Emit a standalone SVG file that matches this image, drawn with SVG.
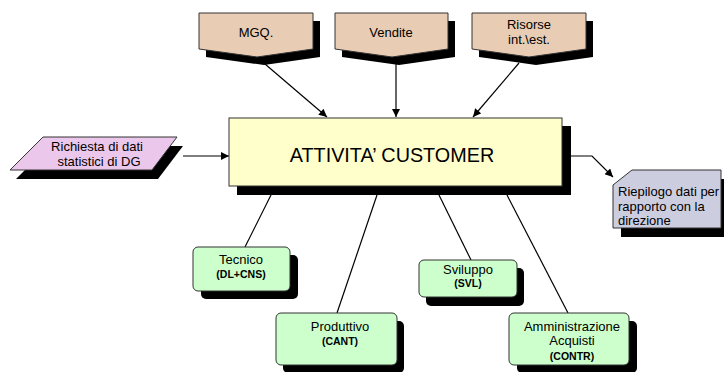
<svg xmlns="http://www.w3.org/2000/svg" width="724" height="372" viewBox="0 0 724 372">
<style>
text{font-family:"Liberation Sans",Arial,sans-serif;fill:#000}
.lbl{font-size:13px}
.sub{font-size:10.5px;font-weight:bold}
.sh{fill:#000}
.tan{fill:#E8CDB4;stroke:#333;stroke-width:1}
.main{fill:#FFFFCC;stroke:#333;stroke-width:1}
.pink{fill:#EBC8EB;stroke:#333;stroke-width:1}
.grey{fill:#CDCDE0;stroke:#333;stroke-width:1}
.green{fill:#CCFFCC;stroke:#333;stroke-width:1}
.conn{stroke:#000;stroke-width:1.2;fill:none}
</style>
<defs>
<marker id="ah" viewBox="0 0 10 10" refX="10" refY="5" markerWidth="9" markerHeight="8" markerUnits="userSpaceOnUse" orient="auto">
<path d="M0,0 L10,5 L0,10 z" fill="#000"/>
</marker>
</defs>

<g id="connectors">
<line class="conn" x1="265" y1="64" x2="327" y2="117" marker-end="url(#ah)"/>
<line class="conn" x1="396" y1="64" x2="396" y2="117" marker-end="url(#ah)"/>
<line class="conn" x1="519" y1="63" x2="473" y2="117" marker-end="url(#ah)"/>
<line class="conn" x1="183" y1="156" x2="229" y2="156" marker-end="url(#ah)"/>
<polyline class="conn" points="571,156 592,156 613,177" marker-end="url(#ah)"/>
<line class="conn" x1="271" y1="195" x2="245" y2="247"/>
<line class="conn" x1="377" y1="195" x2="337" y2="313"/>
<line class="conn" x1="439" y1="195" x2="471" y2="260"/>
<line class="conn" x1="507" y1="195" x2="568" y2="313"/>
</g>

<g id="mgq">
<polygon class="sh" points="206,21 320,21 320,57 264,65 206,57"/>
<polygon class="tan" points="199,13 313,13 313,49 257,57 199,49"/>
<text class="lbl" x="256" y="37" text-anchor="middle">MGQ.</text>
</g>
<g id="vendite">
<polygon class="sh" points="342,21 455,21 455,57 399,65 342,57"/>
<polygon class="tan" points="335,13 448,13 448,49 392,57 335,49"/>
<text class="lbl" x="391" y="37" text-anchor="middle">Vendite</text>
</g>
<g id="risorse">
<polygon class="sh" points="479,21 593,21 593,57 536,65 479,57"/>
<polygon class="tan" points="472,13 586,13 586,49 529,57 472,49"/>
<text class="lbl" x="529" y="29" text-anchor="middle">Risorse</text>
<text class="lbl" x="529" y="44" text-anchor="middle">int.\est.</text>
</g>

<g id="richiesta">
<polygon class="sh" points="49,146 183,146 158,179 16,179"/>
<polygon class="pink" points="43,137 177,137 152,170 10,170"/>
<text class="lbl" x="97" y="151" text-anchor="middle">Richiesta di dati</text>
<text class="lbl" x="99" y="166" text-anchor="middle">statistici di DG</text>
</g>

<g id="customer">
<rect class="sh" x="237" y="126" width="334" height="69"/>
<rect class="main" x="229" y="118" width="333" height="68"/>
<text x="392" y="162" text-anchor="middle" font-size="19.8">ATTIVITA’ CUSTOMER</text>
</g>

<g id="riepilogo">
<polygon class="sh" points="640,179 729,179 729,237 621,237 621,194"/>
<polygon class="grey" points="632,170 721,170 721,228 613,228 613,185"/>
<text class="lbl" x="618" y="196">Riepilogo dati per</text>
<text class="lbl" x="618" y="211">rapporto con la</text>
<text class="lbl" x="618" y="225">direzione</text>
</g>

<g id="tecnico">
<rect class="sh" x="201" y="255" width="97" height="44" rx="5"/>
<rect class="green" x="193" y="247" width="97" height="44" rx="5"/>
<text class="lbl" x="241" y="264" text-anchor="middle">Tecnico</text>
<text class="sub" x="241" y="278" text-anchor="middle">(DL+CNS)</text>
</g>

<g id="produttivo">
<rect class="sh" x="283" y="321" width="121" height="52" rx="5"/>
<rect class="green" x="276" y="313" width="121" height="52" rx="5"/>
<text class="lbl" x="340" y="331" text-anchor="middle">Produttivo</text>
<text class="sub" x="340" y="345" text-anchor="middle">(CANT)</text>
</g>

<g id="sviluppo">
<rect class="sh" x="426" y="268" width="98" height="38" rx="5"/>
<rect class="green" x="419" y="260" width="98" height="37" rx="5"/>
<text class="lbl" x="468" y="274" text-anchor="middle">Sviluppo</text>
<text class="sub" x="468" y="287" text-anchor="middle">(SVL)</text>
</g>

<g id="amministrazione">
<rect class="sh" x="517" y="321" width="120" height="52" rx="5"/>
<rect class="green" x="509" y="313" width="120" height="52" rx="5"/>
<text class="lbl" x="572" y="331" text-anchor="middle">Amministrazione</text>
<text class="lbl" x="572" y="345" text-anchor="middle">Acquisti</text>
<text class="sub" x="572" y="360" text-anchor="middle">(CONTR)</text>
</g>
</svg>
